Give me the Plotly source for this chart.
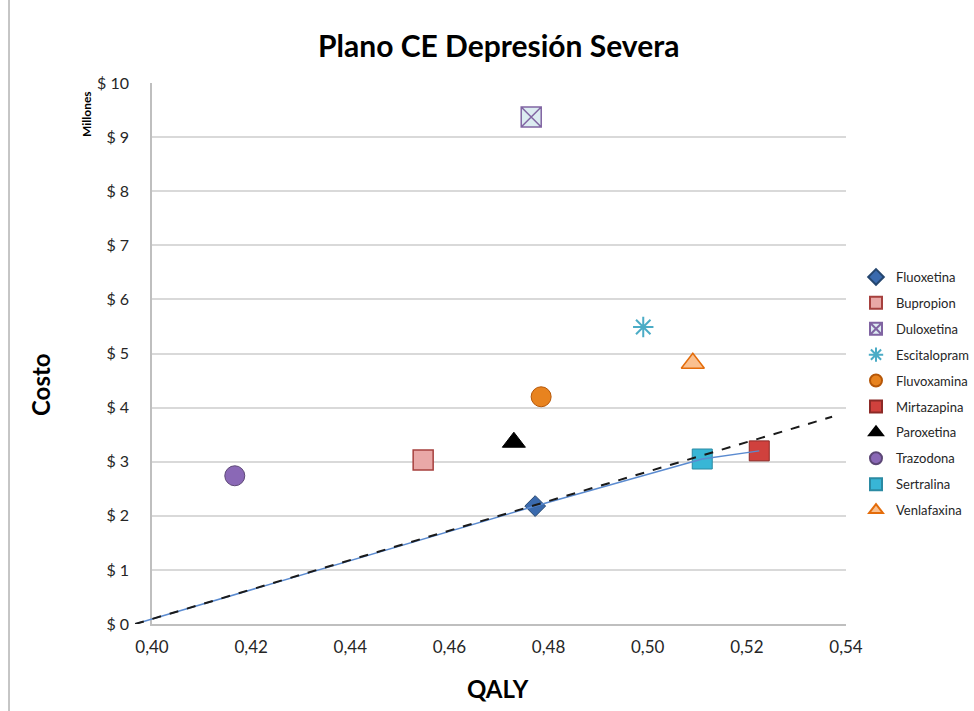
import plotly.graph_objects as go

# ---------------- data ----------------
drugs = ["Fluoxetina", "Bupropion", "Duloxetina", "Escitalopram", "Fluvoxamina",
         "Mirtazapina", "Paroxetina", "Trazodona", "Sertralina", "Venlafaxina"]
qaly = [0.4773, 0.4547, 0.4765, 0.4991, 0.4785, 0.5225, 0.4730, 0.4167, 0.5110, 0.5091]
cost = [2.18, 3.03, 9.37, 5.49, 4.20, 3.20, 3.36, 2.74, 3.05, 4.82]

# efficient frontier (origin -> Fluoxetina -> Sertralina -> Mirtazapina)
frontier_x = [0.3966, 0.4773, 0.5110, 0.5225]
frontier_y = [0.0, 2.18, 3.05, 3.20]
# linear trend line
trend_x = [0.3966, 0.5372]
trend_y = [0.0, 3.83]

x_ticks = [0.40, 0.42, 0.44, 0.46, 0.48, 0.50, 0.52, 0.54]
x_tick_text = ["0,40", "0,42", "0,44", "0,46", "0,48", "0,50", "0,52", "0,54"]
y_ticks = [0, 1, 2, 3, 4, 5, 6, 7, 8, 9, 10]
y_tick_text = ["$ 0", "$ 1", "$ 2", "$ 3", "$ 4", "$ 5", "$ 6", "$ 7", "$ 8", "$ 9", "$ 10"]

# ---------------- styles ----------------
styles = {
    "Fluoxetina":   dict(symbol="diamond", size=16, color="#3A6AAE", line=dict(color="#25466F", width=1)),
    "Bupropion":    dict(symbol="square", size=20, color="#E9A8A7", line=dict(color="#A6403E", width=1.5)),
    "Duloxetina":   dict(symbol="square-x", size=20, color="#DCECF1", line=dict(color="#8064A2", width=1.5)),
    "Escitalopram": dict(symbol="asterisk-open", size=17, color="#4BACC6", line=dict(color="#4BACC6", width=2)),
    "Fluvoxamina":  dict(symbol="circle", size=20, color="#E8831F", line=dict(color="#B65708", width=1)),
    "Mirtazapina":  dict(symbol="square", size=20, color="#D0413D", line=dict(color="#8C2A27", width=1)),
    "Paroxetina":   dict(symbol="triangle-up", size=20, color="#000000", line=dict(color="#000000", width=1)),
    "Trazodona":    dict(symbol="circle", size=20, color="#8A68B6", line=dict(color="#5C4776", width=1)),
    "Sertralina":   dict(symbol="square", size=20, color="#38B6D6", line=dict(color="#2B8AA3", width=1)),
    "Venlafaxina":  dict(symbol="triangle-up", size=20, color="#FAC08F", line=dict(color="#E46C0A", width=1.5)),
}

FONT = "Lato"
W, H = 974, 711
L, R, T, B = 130, 128, 83, 87
PW = W - L - R
PH = H - T - B
AXIS_LEFT_PX = 152  # main plot area left edge
d = (AXIS_LEFT_PX - L) / PW
px_per_unit = (PW - (AXIS_LEFT_PX - L)) / (x_ticks[-1] - x_ticks[0])
x2_start = x_ticks[0] - (AXIS_LEFT_PX - L) / px_per_unit


def px_x(p):
    return (p - L) / PW


def px_y(p):
    return (H - B - p) / PH


fig = go.Figure()

for name, q, c in zip(drugs, qaly, cost):
    s = styles[name]
    fig.add_trace(go.Scatter(
        x=[q], y=[c], mode="markers", name=name, legendgroup=name,
        marker=dict(symbol=s["symbol"], size=s["size"], color=s["color"], line=s["line"]),
        cliponaxis=False, xaxis="x", yaxis="y",
    ))

# lines in an overlapping subplot that starts slightly left of the axis
fig.add_trace(go.Scatter(x=frontier_x, y=frontier_y, mode="lines", showlegend=False,
                         line=dict(color="#5B8BD0", width=1.5), xaxis="x2", yaxis="y2"))
fig.add_trace(go.Scatter(x=trend_x, y=trend_y, mode="lines", showlegend=False,
                         line=dict(color="#1A1A1A", width=2, dash="dash"), xaxis="x2", yaxis="y2"))

fig.update_layout(
    width=W, height=H,
    margin=dict(l=L, r=R, t=T, b=B, autoexpand=False),
    paper_bgcolor="white", plot_bgcolor="rgba(0,0,0,0)",
    font=dict(family=FONT, color="#262626"),
    xaxis=dict(domain=[d, 1], range=[x_ticks[0], x_ticks[-1]], tickvals=x_ticks, ticktext=x_tick_text,
               showgrid=False, zeroline=False, showline=True, linecolor="#BFBFBF", linewidth=1.5,
               ticks="", tickfont=dict(size=17, family=FONT, color="#262626"), ticklabelstandoff=7,
               fixedrange=True, anchor="y", automargin=False),
    yaxis=dict(domain=[0, 1], range=[y_ticks[0], y_ticks[-1]], tickvals=y_ticks, ticktext=y_tick_text,
               showgrid=True, gridcolor="#D9D9D9", gridwidth=2, zeroline=False,
               showline=True, linecolor="#BFBFBF", linewidth=1.5,
               ticks="", tickfont=dict(size=16, family=FONT, color="#262626"), ticklabelstandoff=18,
               fixedrange=True, anchor="x", automargin=False),
    xaxis2=dict(domain=[0, 1], range=[x2_start, x_ticks[-1]], visible=False, anchor="y2", fixedrange=True),
    yaxis2=dict(domain=[0, 1], range=[y_ticks[0], y_ticks[-1]], visible=False, anchor="x2", fixedrange=True),
    legend=dict(x=px_x(856), y=px_y(262), xanchor="left", yanchor="top",
                font=dict(size=13, family=FONT, color="#262626"),
                itemsizing="constant", tracegroupgap=6, bgcolor="rgba(0,0,0,0)"),
    showlegend=True,
)

fig.add_annotation(text="<b>Plano CE Depresión Severa</b>", xref="paper", yref="paper",
                   x=px_x(498), y=px_y(45), showarrow=False, xanchor="center", yanchor="middle",
                   font=dict(size=30, family=FONT, color="#000000"))
fig.add_annotation(text="<b>Costo</b>", xref="paper", yref="paper", textangle=-90,
                   x=px_x(40), y=px_y(385), showarrow=False, xanchor="center", yanchor="middle",
                   font=dict(size=24, family=FONT, color="#000000"))
fig.add_annotation(text="<b>QALY</b>", xref="paper", yref="paper",
                   x=px_x(498), y=px_y(688), showarrow=False, xanchor="center", yanchor="middle",
                   font=dict(size=24, family=FONT, color="#000000"))
fig.add_annotation(text="<b>Millones</b>", xref="paper", yref="paper", textangle=-90,
                   x=px_x(87), y=px_y(114), showarrow=False, xanchor="center", yanchor="middle",
                   font=dict(size=12, family=FONT, color="#000000"))

# outer left border of the chart frame
fig.add_shape(type="line", xref="paper", yref="paper", x0=px_x(9), x1=px_x(9), y0=px_y(711), y1=px_y(0),
              line=dict(color="#8C8C8C", width=1))

fig.write_html("out.html")
